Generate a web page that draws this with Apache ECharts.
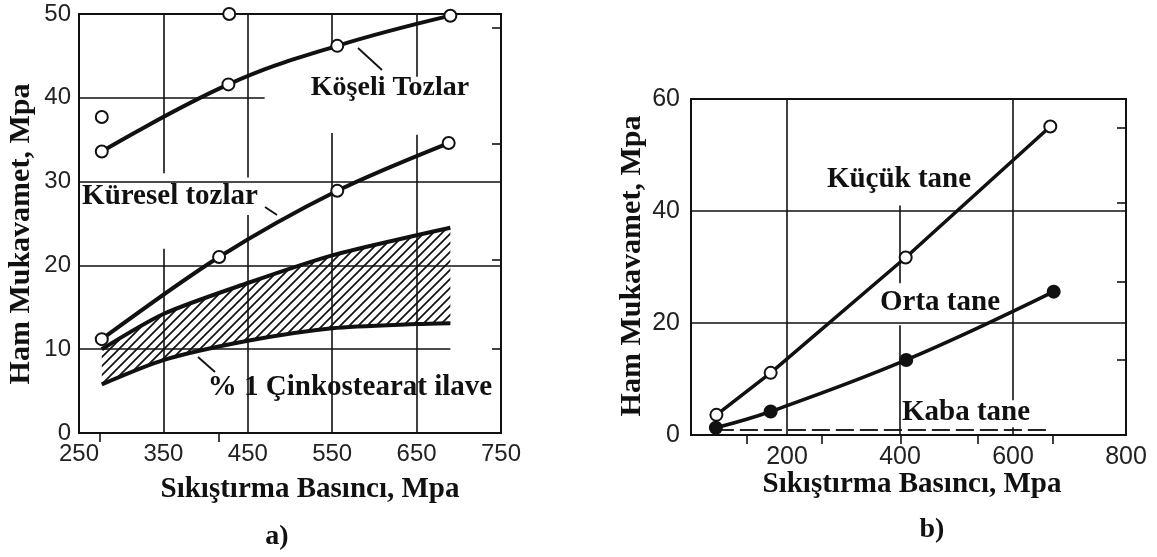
<!DOCTYPE html>
<html>
<head>
<meta charset="utf-8">
<script src="https://cdn.jsdelivr.net/npm/echarts@6/dist/echarts.min.js"></script>
<style>
  html, body { margin: 0; padding: 0; background: #fff; }
  #chart { width: 1157px; height: 557px; }
</style>
</head>
<body>
<div id="chart"></div>
<script>
// a) compaction pressure vs green strength
const aXTicks = [250, 350, 450, 550, 650, 750];
const koseliPoints = [[277, 33.6], [427, 41.6], [556, 46.2], [690, 49.8]];
const koseliOutliers = [[277, 37.7], [428, 50]];
const kureselPoints = [[277, 11.2], [416, 21.0], [556, 28.9], [688, 34.6]];
const bandX = [277, 350, 450, 550, 650, 690];
const bandUpper = [10.0, 14.2, 17.9, 21.2, 23.6, 24.5];
const bandLower = [5.8, 8.7, 11.0, 12.5, 13.0, 13.1];
const aTopTicks = [275, 415];
const aRightTicks = [48.3, 34.5, 20.7, 10];
// grid lines of the original figure are broken around the labels
const aGridLines = [
    [[250, 40], [470, 40]], [[250, 30], [750, 30]], [[250, 20], [750, 20]], [[250, 10], [690, 10]],
    [[350, 50], [350, 31]], [[350, 22], [350, 0]],
    [[450, 50], [450, 30.5]], [[450, 26], [450, 0]],
    [[550, 50], [550, 46]], [[550, 35.8], [550, 0]],
    [[650, 50], [650, 42.5]], [[650, 35.6], [650, 0]]
];

// b) grain size
const bXTicks = [200, 400, 600, 800];
const kucukPoints = [[75, 3.6], [171, 11.1], [410, 31.7], [666, 55.1]];
const ortaPoints = [[74, 1.3], [171, 4.2], [411, 13.4], [672, 25.6]];
const kabaPoints = [[74, 0.9], [668, 0.9]];
const bTopTicks = [129, 262, 402, 538, 671];
const bRightTicks = [13.5, 27.4, 41.4, 54.9];
const bGridLines = [
    [[30, 40], [800, 40]], [[30, 20], [800, 20]],
    [[200, 60], [200, 0]],
    [[400, 41], [400, 27.1]], [[400, 19.6], [400, 0]],
    [[600, 60], [600, 6.2]], [[600, 1.4], [600, 0]]
];

const ink = '#111';
const serif = '"Liberation Serif", "DejaVu Serif", serif';
const sans = '"Liberation Sans", Arial, sans-serif';

// hatch pattern for the zinc stearate band
function hatch() {
    const s = 9;
    const c = document.createElement('canvas');
    c.width = s; c.height = s;
    const g = c.getContext('2d');
    g.strokeStyle = '#111';
    g.lineWidth = 1.7;
    g.beginPath();
    g.moveTo(-1, s + 1); g.lineTo(s + 1, -1);
    g.moveTo(-2, 2); g.lineTo(2, -2);
    g.moveTo(s - 2, s + 2); g.lineTo(s + 2, s - 2);
    g.stroke();
    return c;
}
const hatchFill = { image: hatch(), repeat: 'repeat' };

const chart = echarts.init(document.getElementById('chart'));

function mainX(gridIndex, min, max, ticks, size, margin) {
    return {
        type: 'value', gridIndex, min, max,
        axisLine: { lineStyle: { color: ink, width: 2 } },
        axisTick: { show: false, customValues: ticks },
        axisLabel: { customValues: ticks, color: '#222', fontFamily: sans, fontSize: size, margin },
        splitLine: { show: false }
    };
}
function mainY(gridIndex, max, interval, size, margin) {
    return {
        type: 'value', gridIndex, min: 0, max, interval,
        axisLine: { show: true, lineStyle: { color: ink, width: 2 } },
        axisTick: { show: false },
        axisLabel: { color: '#222', fontFamily: sans, fontSize: size, margin },
        splitLine: { show: false }
    };
}
function innerAxis(kind, gridIndex, min, max, ticks) {
    return {
        type: 'value', gridIndex, min, max,
        position: kind === 'x' ? 'top' : 'right',
        axisLine: { show: false },
        axisTick: { show: true, inside: true, length: 9, customValues: ticks, lineStyle: { color: ink, width: 1.6 } },
        axisLabel: { show: false },
        splitLine: { show: false }
    };
}
function gridSeries(axisIndex, segs) {
    return {
        type: 'line', xAxisIndex: axisIndex, yAxisIndex: axisIndex, data: [], z: 1, silent: true,
        markLine: {
            silent: true, symbol: 'none', animation: false,
            label: { show: false },
            lineStyle: { color: ink, width: 1.6, type: 'solid' },
            emphasis: { disabled: true },
            data: segs.map(s => [{ coord: s[0] }, { coord: s[1] }])
        }
    };
}

const circle = (filled) => ({
    symbol: 'circle',
    symbolSize: 12,
    itemStyle: { color: filled ? ink : '#fff', borderColor: ink, borderWidth: 2, opacity: 1 }
});

function text(x, y, str, size, extra) {
    return Object.assign({
        type: 'text', x, y,
        style: {
            text: str, fill: ink, font: 'bold ' + size + 'px ' + serif,
            align: 'center', verticalAlign: 'middle'
        }
    }, extra || {});
}
function leader(x1, y1, x2, y2) {
    return { type: 'line', shape: { x1, y1, x2, y2 }, style: { stroke: ink, lineWidth: 1.8 } };
}

chart.setOption({
    backgroundColor: '#fff',
    animation: false,
    grid: [
        { left: 79, top: 14, width: 422, height: 419, show: true, borderColor: ink, borderWidth: 2 },
        { left: 691, top: 99, width: 435, height: 336, show: true, borderColor: ink, borderWidth: 2 }
    ],
    xAxis: [
        mainX(0, 250, 750, aXTicks, 24, 9),
        mainX(1, 30, 800, bXTicks, 25, 10),
        innerAxis('x', 0, 250, 750, aTopTicks),
        innerAxis('x', 1, 30, 800, bTopTicks)
    ],
    yAxis: [
        mainY(0, 50, 10, 24, 8),
        mainY(1, 60, 20, 25, 11),
        innerAxis('y', 0, 0, 50, aRightTicks),
        innerAxis('y', 1, 0, 60, bRightTicks)
    ],
    series: [
        gridSeries(0, aGridLines),
        gridSeries(1, bGridLines),
        {
            type: 'custom', xAxisIndex: 0, yAxisIndex: 0, z: 2,
            data: bandX.map((x, i) => [x, bandUpper[i], bandLower[i]]),
            renderItem: (params, api) => {
                if (params.dataIndex !== 0) return null;
                const top = bandX.map((x, i) => api.coord([x, bandUpper[i]]));
                const bottom = bandX.map((x, i) => api.coord([x, bandLower[i]])).reverse();
                return { type: 'polygon', shape: { points: top.concat(bottom) }, style: { fill: hatchFill, stroke: null } };
            }
        },
        {
            type: 'line', xAxisIndex: 0, yAxisIndex: 0, z: 3,
            data: bandX.map((x, i) => [x, bandUpper[i]]),
            smooth: 0.25, showSymbol: false,
            lineStyle: { color: ink, width: 4 }
        },
        {
            type: 'line', xAxisIndex: 0, yAxisIndex: 0, z: 3,
            data: bandX.map((x, i) => [x, bandLower[i]]),
            smooth: 0.25, showSymbol: false,
            lineStyle: { color: ink, width: 4 }
        },
        Object.assign({
            type: 'line', xAxisIndex: 0, yAxisIndex: 0, data: koseliPoints, smooth: 0.4,
            lineStyle: { color: ink, width: 4 }, clip: false, z: 5
        }, circle(false)),
        Object.assign({
            type: 'scatter', xAxisIndex: 0, yAxisIndex: 0, data: koseliOutliers, clip: false, z: 5
        }, circle(false)),
        Object.assign({
            type: 'line', xAxisIndex: 0, yAxisIndex: 0, data: kureselPoints, smooth: 0.3,
            lineStyle: { color: ink, width: 4 }, z: 5
        }, circle(false)),
        Object.assign({
            type: 'line', xAxisIndex: 1, yAxisIndex: 1, data: kucukPoints,
            lineStyle: { color: ink, width: 3.5 }, z: 5
        }, circle(false)),
        Object.assign({
            type: 'line', xAxisIndex: 1, yAxisIndex: 1, data: ortaPoints, smooth: 0.4,
            lineStyle: { color: ink, width: 3.5 }, z: 6
        }, circle(true)),
        {
            type: 'line', xAxisIndex: 1, yAxisIndex: 1, data: kabaPoints, showSymbol: false,
            lineStyle: { color: '#222', width: 2, type: [18, 6] }, z: 4
        }
    ],
    graphic: [
        text(390, 88, 'Köşeli Tozlar', 28),
        text(170, 197, 'Küresel tozlar', 29),
        text(350, 388, '% 1 Çinkostearat ilave', 29),
        leader(358, 48, 382, 70),
        leader(265, 207, 277, 215),
        leader(198, 357, 215, 372),
        text(310, 490, 'Sıkıştırma Basıncı, Mpa', 29),
        text(21, 234, 'Ham Mukavamet, Mpa', 30, { rotation: Math.PI / 2 }),
        text(277, 537, 'a)', 28),
        text(899, 180, 'Küçük tane', 29),
        text(940, 303, 'Orta tane', 29),
        text(966, 413, 'Kaba tane', 29),
        text(912, 485, 'Sıkıştırma Basıncı, Mpa', 29),
        text(632, 266, 'Ham Mukavamet, Mpa', 30, { rotation: Math.PI / 2 }),
        text(932, 530, 'b)', 28)
    ]
});
</script>
</body>
</html>
